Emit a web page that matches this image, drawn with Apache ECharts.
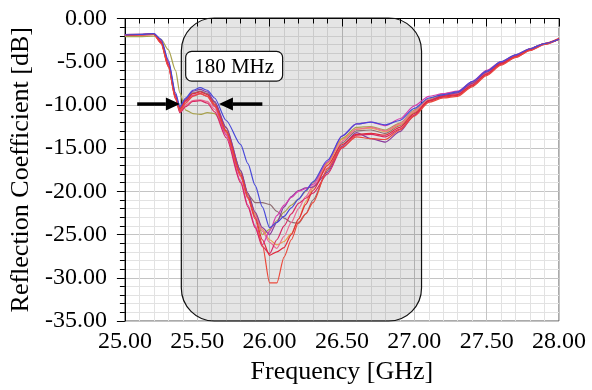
<!DOCTYPE html>
<html>
<head>
<meta charset="utf-8">
<script src="https://cdn.jsdelivr.net/npm/echarts@6/dist/echarts.min.js"></script>
<style>
html,body{margin:0;padding:0;background:#fff;}
#chart{width:592px;height:390px;}
</style>
</head>
<body>
<div id="chart"></div>
<script>
// Frequency samples [GHz]
const freq = [25.00, 25.10, 25.20, 25.25, 25.30, 25.35, 25.38, 25.42, 25.47, 25.52, 25.57, 25.62, 25.70, 25.80, 25.85, 25.90, 25.95, 26.00, 26.05, 26.10, 26.15, 26.20, 26.25, 26.30, 26.40, 26.50, 26.60, 26.70, 26.80, 26.90, 27.00, 27.10, 27.20, 27.30, 27.40, 27.50, 27.60, 27.70, 27.80, 27.90, 28.00];

// Reflection coefficient curves [dB]
const oliveCurve = [-2.1,-2.1,-2.05,-2.4,-3.6,-6.0,-8.6,-10.6,-11.0,-11.1,-10.9,-11.0,-13.0,-17.8,-20.3,-22.6,-25.0,-24.4,-23.4,-22.4,-21.6,-20.9,-20.0,-19.0,-16.7,-13.9,-12.6,-12.5,-12.9,-12.1,-10.6,-9.3,-8.7,-8.5,-7.4,-6.1,-5.0,-4.2,-3.5,-2.9,-2.4];
const brownCurve = [-1.9,-1.85,-1.8,-2.6,-5.1,-8.9,-10.4,-9.4,-8.6,-8.4,-8.7,-9.7,-12.7,-17.6,-20.4,-21.3,-21.3,-21.5,-22.3,-23.1,-23.6,-23.7,-22.6,-21.0,-17.6,-14.4,-13.0,-12.9,-13.3,-12.4,-10.9,-9.4,-8.9,-8.6,-7.5,-6.2,-5.1,-4.3,-3.5,-2.9,-2.4];
const orangeCurve = [-1.95,-1.9,-1.85,-2.7,-5.3,-9.0,-10.5,-9.6,-8.9,-8.7,-9.0,-10.0,-13.0,-17.9,-20.3,-22.5,-24.4,-25.6,-26.2,-25.8,-24.9,-23.2,-21.2,-19.6,-16.8,-14.0,-12.8,-12.7,-13.1,-12.3,-10.8,-9.4,-8.9,-8.6,-7.5,-6.2,-5.1,-4.3,-3.5,-2.9,-2.4];
const pinkCurve = [-1.95,-1.9,-1.85,-2.8,-5.5,-9.2,-10.8,-10.0,-9.5,-9.4,-9.6,-10.5,-13.4,-18.3,-20.8,-22.8,-24.6,-25.9,-26.6,-25.2,-23.6,-22.0,-20.6,-19.4,-17.3,-14.2,-12.8,-12.6,-13.0,-12.2,-10.7,-9.4,-9.0,-8.7,-7.6,-6.3,-5.2,-4.4,-3.6,-2.9,-2.4];
const purpleCurve = [-1.85,-1.8,-1.75,-2.5,-5.0,-8.8,-10.4,-9.3,-8.4,-8.2,-8.5,-9.6,-12.6,-17.6,-20.2,-22.4,-24.2,-25.0,-23.6,-21.8,-20.6,-19.9,-19.6,-19.5,-17.8,-14.8,-13.2,-13.9,-14.3,-13.1,-11.2,-9.5,-8.9,-8.6,-7.5,-6.2,-5.1,-4.3,-3.5,-2.9,-2.4];
const magentaCurve = [-1.9,-1.85,-1.8,-2.6,-5.2,-9.0,-10.6,-9.6,-8.9,-8.7,-9.0,-10.2,-13.5,-18.8,-21.6,-24.0,-26.2,-24.6,-22.8,-21.6,-20.7,-20.0,-19.7,-19.2,-16.6,-13.6,-12.2,-12.0,-12.4,-11.6,-10.1,-9.0,-8.7,-8.4,-7.3,-6.0,-5.0,-4.2,-3.5,-2.9,-2.4];
const crimsonCurve = [-1.95,-1.9,-1.85,-2.8,-5.5,-9.3,-10.9,-10.2,-9.6,-9.5,-9.8,-10.8,-13.8,-19.0,-21.8,-24.2,-26.4,-27.2,-25.6,-24.0,-22.6,-21.4,-20.8,-20.2,-18.0,-15.0,-13.5,-13.4,-13.7,-12.8,-11.2,-9.6,-9.1,-8.9,-7.8,-6.5,-5.3,-4.5,-3.7,-3.0,-2.4];
const red2Curve = [-1.9,-1.85,-1.8,-2.7,-5.3,-9.0,-10.5,-9.5,-8.7,-8.5,-8.8,-9.9,-13.0,-18.0,-20.6,-23.0,-25.6,-27.4,-27.0,-26.5,-25.0,-23.2,-21.5,-19.9,-17.0,-14.6,-13.4,-13.3,-13.5,-12.6,-11.0,-9.5,-9.0,-8.8,-7.7,-6.4,-5.2,-4.4,-3.6,-2.9,-2.3];
const red1Curve = [-1.95,-1.9,-1.85,-2.9,-5.6,-9.3,-10.7,-9.8,-9.0,-8.7,-9.0,-10.1,-13.2,-18.2,-20.8,-23.2,-26.2,-30.6,-30.6,-27.6,-25.6,-23.6,-22.6,-21.3,-17.4,-14.9,-13.7,-13.9,-14.0,-12.9,-11.3,-9.7,-9.2,-9.0,-7.9,-6.6,-5.4,-4.5,-3.7,-3.0,-2.4];
const blueCurve = [-1.90,-1.85,-1.75,-2.4,-4.8,-8.6,-10.2,-9.2,-8.3,-8.0,-8.3,-9.2,-11.8,-14.6,-16.8,-19.3,-21.8,-24.2,-23.6,-22.9,-21.9,-20.9,-19.9,-18.9,-16.4,-13.6,-12.2,-12.0,-12.3,-11.8,-10.4,-9.2,-8.8,-8.5,-7.3,-6.1,-5.0,-4.2,-3.5,-2.9,-2.4];

const curves = [oliveCurve, brownCurve, orangeCurve, pinkCurve, purpleCurve, magentaCurve, crimsonCurve, red2Curve, red1Curve, blueCurve];
const curveColors = ['#a9a24e','#8e6e72','#e9a04a','#ec6c94','#8a3c9e','#d43fae','#d82a64','#e02a3c','#ea4a3c','#4848d8'];

// Axis ticks
const xMin = 25, xMax = 28, xStep = 0.5;
const yMin = -35, yMax = 0, yStep = 5;

// Annotation values
const bandLow = 25.39, bandHigh = 27.05;   // highlighted region
const bwLabel = '180 MHz';
const arrowLevel = -9.9;

const serif = '"Liberation Serif", "Times New Roman", serif';

const chart = echarts.init(document.getElementById('chart'), null, {renderer: 'canvas'});

const series = curves.map((c, i) => ({
  type: 'line',
  data: freq.map((f, k) => [f, c[k]]),
  showSymbol: false,
  smooth: 0.25,
  smoothMonotone: 'x',
  lineStyle: {color: curveColors[i], width: 1.2},
  z: 3,
  silent: true,
  animation: false
}));

chart.setOption({
  animation: false,
  grid: {left: 120, right: 33, top: 18.5, bottom: 67, show: true, borderColor: '#555', borderWidth: 1, backgroundColor: 'transparent'},
  xAxis: {
    type: 'value', min: xMin, max: xMax, interval: xStep,
    name: 'Frequency [GHz]', nameLocation: 'middle', nameGap: 38,
    nameTextStyle: {fontFamily: serif, fontSize: 26, color: '#000'},
    axisLine: {show: true, lineStyle: {color: '#000', width: 1}},
    axisTick: {show: true, inside: false, length: 8, lineStyle: {color: '#000'}},
    minorTick: {show: true, splitNumber: 5, length: 5, lineStyle: {color: '#000'}},
    axisLabel: {fontFamily: serif, fontSize: 24, color: '#000', margin: 9, formatter: v => v.toFixed(2)},
    splitLine: {show: true, lineStyle: {color: '#c4c4c4', width: 1}},
    minorSplitLine: {show: true, lineStyle: {color: '#e2e2e2', width: 1}}
  },
  yAxis: {
    type: 'value', min: yMin, max: yMax, interval: yStep,
    name: 'Reflection Coefficient [dB]', nameLocation: 'middle', nameGap: 86,
    nameTextStyle: {fontFamily: serif, fontSize: 26, color: '#000'},
    axisLine: {show: true, lineStyle: {color: '#000', width: 1}},
    axisTick: {show: true, inside: false, length: 8, lineStyle: {color: '#000'}},
    minorTick: {show: true, splitNumber: 5, length: 5, lineStyle: {color: '#000'}},
    axisLabel: {fontFamily: serif, fontSize: 24, color: '#000', margin: 18, formatter: v => v.toFixed(2)},
    splitLine: {show: true, lineStyle: {color: '#c4c4c4', width: 1}},
    minorSplitLine: {show: true, lineStyle: {color: '#e2e2e2', width: 1}}
  },
  series: series
});

function px(x, y) { return chart.convertToPixel({gridIndex: 0}, [x, y]); }

const tl = px(bandLow, yMax);
const br = px(bandHigh, yMin);
const lblA = px(25.42, -3.8);
const lblB = px(26.09, -7.25);
const aL0 = px(25.085, arrowLevel), aL1 = px(25.38, arrowLevel);
const aR0 = px(25.95, arrowLevel), aR1 = px(25.65, arrowLevel);

function arrow(from, to) {
  const dir = Math.sign(to[0] - from[0]);
  const headLen = 14, headHalf = 6.5;
  const baseX = to[0] - dir * headLen;
  return [
    {type: 'line', z: 10, shape: {x1: from[0], y1: from[1], x2: baseX, y2: to[1]}, style: {stroke: '#000', lineWidth: 3.5}},
    {type: 'polygon', z: 10, shape: {points: [[to[0], to[1]], [baseX, to[1] - headHalf], [baseX, to[1] + headHalf]]}, style: {fill: '#000'}}
  ];
}

chart.setOption({
  graphic: [
    {type: 'rect', z: 1, silent: true,
     shape: {x: tl[0], y: tl[1] - 0.5, width: br[0] - tl[0], height: br[1] - tl[1] + 0.5, r: 33},
     style: {fill: 'rgba(0,0,0,0.10)', stroke: '#111', lineWidth: 1.2}},
    ...arrow(aL0, aL1),
    ...arrow(aR0, aR1),
    {type: 'rect', z: 11, silent: true,
     shape: {x: lblA[0], y: lblA[1], width: lblB[0] - lblA[0], height: lblB[1] - lblA[1], r: 6},
     style: {fill: '#fff', stroke: '#111', lineWidth: 1.2}},
    {type: 'text', z: 12, silent: true,
     x: (lblA[0] + lblB[0]) / 2, y: (lblA[1] + lblB[1]) / 2 + 1,
     style: {text: bwLabel, font: '21px ' + serif, fill: '#000', align: 'center', verticalAlign: 'middle'}}
  ]
});
</script>
</body>
</html>
